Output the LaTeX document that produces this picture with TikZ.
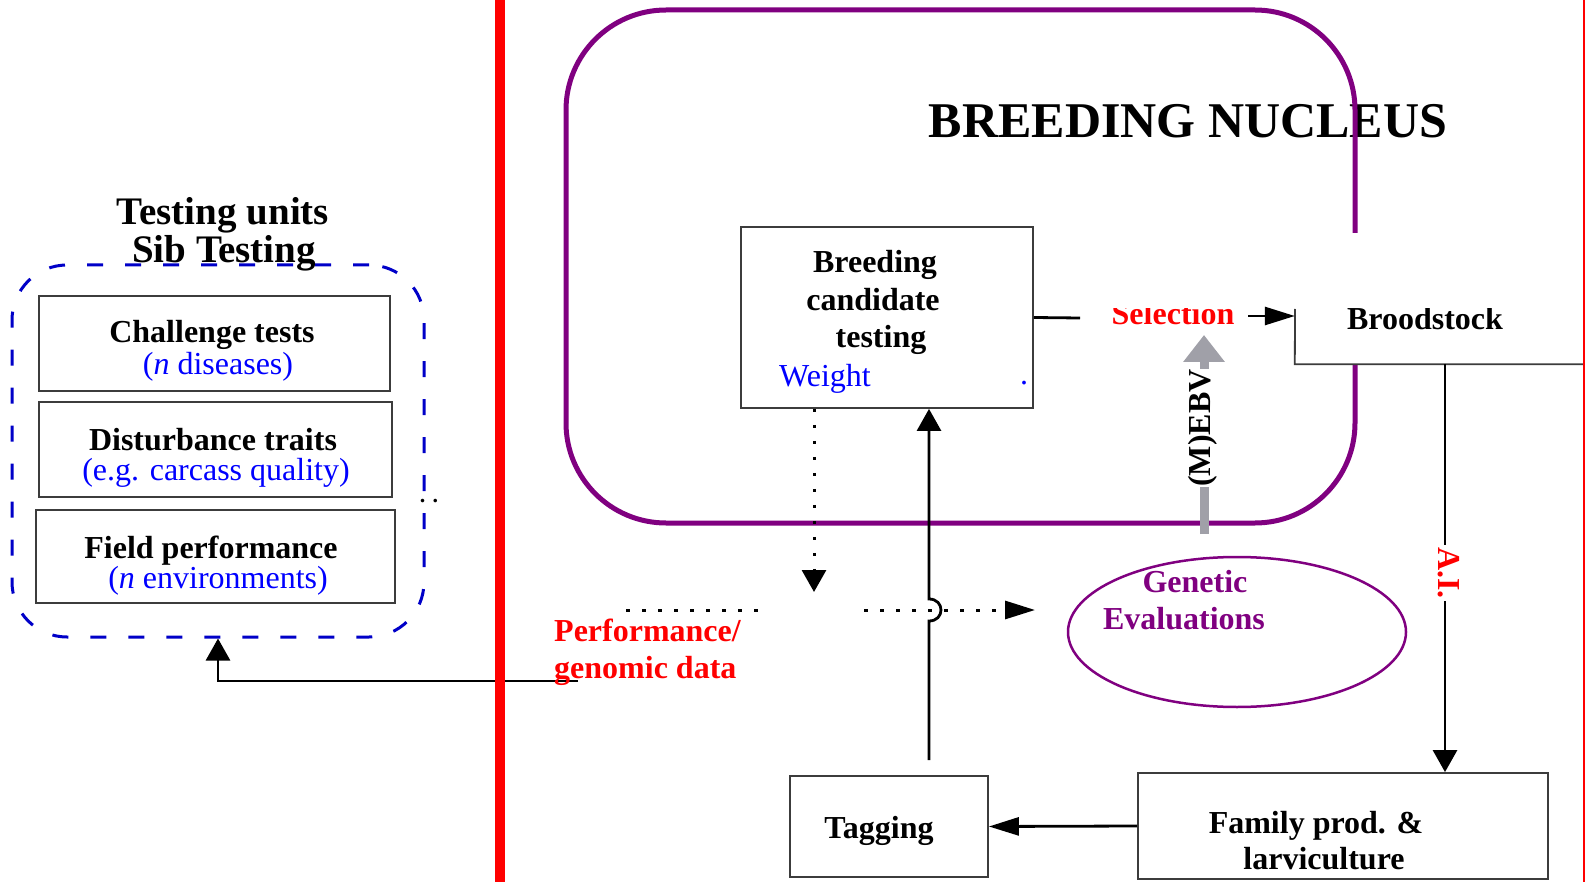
\documentclass[tikz,border=0pt]{standalone}
\usepackage{fontspec}
\setmainfont{Liberation Serif}
\usetikzlibrary{arrows.meta,shapes.geometric,calc}
\definecolor{nucpurple}{RGB}{128,0,128}
\definecolor{dblue}{RGB}{0,0,200}
\definecolor{ebvgray}{RGB}{160,160,168}
\definecolor{boxgray}{RGB}{60,60,60}
\newcommand{\fsz}[1]{\fontsize{#1}{#1}\selectfont}
\begin{document}
\begin{tikzpicture}[x=1pt,y=-1pt,
  box/.style={draw=boxgray, line width=1.8pt, rectangle, inner sep=0pt, fill=white},
  lbl/.style={anchor=base, inner sep=0pt, font=\fsz{32}\bfseries},
  subl/.style={anchor=base, inner sep=0pt, font=\fsz{32}, text=blue},
  conn/.style={draw=black, line width=2.8pt},
  harrow/.style={-{Triangle[length=30pt,width=18pt]}},
  varrow/.style={-{Triangle[length=22pt,width=24pt]}},
  dotline/.style={dash pattern=on 3.5pt off 12.5pt, line width=3pt},
]
\useasboundingbox (0,0) rectangle (1585,882);
\fill[white] (0,0) rectangle (1585,882);

% ---- breeding nucleus ----
\node[font=\fsz{50}\bfseries, anchor=base, inner sep=0pt] (title) at (1188,138) {BREEDING NUCLEUS};
\draw[nucpurple, line width=5pt, rounded corners=100pt] (566,10) rectangle (1355,523);

\node[box, minimum width=292pt, minimum height=181pt] (bct) at (887,317.5) {};
\node[lbl] (bct1) at (875,273) {Breeding};
\node[lbl] (bct2) at (873,311) {candidate};
\node[lbl] (bct3) at (881,348) {testing};
\node[subl, anchor=base west] (wt) at (779,387) {Weight};
\node[subl] (wdot) at (1024,385) {.};

% broodstock
\node[fill=white, inner sep=0pt, minimum width=289pt, minimum height=131pt] (brood) at (1439.5,298.5) {};
\coordinate (bl) at (1295,309);
\draw[draw=boxgray, line width=1.8pt] (bl) -- (brood.south west) -- (brood.south east);
\begin{scope}
\clip (1090,309) rectangle (1580,400);
\node[lbl, text=red] (sel) at (1173,325) {Selection};
\node[lbl] (bs) at (1425,330) {Broodstock};
\end{scope}

\coordinate (selL) at (1080,318);
\coordinate (selR) at (1248,316);
\draw[conn] (bct.east) -- (selL);
\draw[conn, harrow] (selR) -- (selR -| brood.west);

% EBV arrow
\coordinate (ebvB) at (1204,534);
\coordinate (ebvT) at (1204,335);
\draw[ebvgray, line width=9pt, -{Triangle[length=27pt,width=40pt]}] (ebvB) -- (ebvT);
\node[font=\fsz{32}\bfseries, rotate=90, fill=white, inner sep=0pt] (ebv) at (1203,428) {(M)EBV};

% genetic evaluations
\node[draw=nucpurple, line width=2.5pt, ellipse, minimum width=338pt, minimum height=150pt, inner sep=0pt] (ge) at (1237,632) {};
\node[lbl, text=nucpurple] (ge1) at (1195,592) {Genetic};
\node[lbl, text=nucpurple] (ge2) at (1184,629) {Evaluations};

% bottom boxes
\node[box, minimum width=198pt, minimum height=101pt] (tag) at (889,826.5) {};
\node[lbl] (tagt) at (879,838) {Tagging};
\node[box, minimum width=410pt, minimum height=106pt] (fam) at (1343,826) {};
\node[lbl] (fam1) at (1316,833) {Family prod. \&};
\node[lbl] (fam2) at (1324,869) {larviculture};

% A.I.
\coordinate (aiT) at (1445,364);
\draw[conn, varrow] (aiT) -- (aiT |- fam.north);
\node[font=\fsz{32}\bfseries, text=red, rotate=-90, fill=white, inner sep=2pt] (ai) at (1449,573) {A.I.};

\draw[conn, harrow] (fam.west) -- (tag.east);

% tagging -> breeding candidate testing (with hop)
\coordinate (tgT) at (929,760);
\draw[conn, varrow] (tgT) -- (929,621) .. controls (945,621) and (945,599) .. (929,599) -- (tgT |- bct.south);

% dotted data flow
\coordinate (dd) at (814,592);
\draw[conn, dotline, varrow] (dd |- bct.south) -- (dd);
\coordinate (h1) at (626,610);
\coordinate (h2) at (768,610);
\coordinate (h3) at (864,610);
\coordinate (h4) at (1035,610);
\draw[conn, dotline] (h1) -- (h2);
\draw[conn, dotline, harrow] (h3) -- (h4);

% ---- testing units ----
\node[draw=dblue, line width=3pt, dash pattern=on 16pt off 22pt, rounded corners=55pt, minimum width=412pt, minimum height=372pt, inner sep=0pt] (tu) at (218,451) {};
\node[anchor=base, inner sep=0pt, font=\fsz{39}\bfseries] (tu1) at (223,225) {Testing units};
\node[anchor=base, inner sep=0pt, font=\fsz{39}\bfseries] (tu2) at (224,263) {Sib Testing};

\node[box, minimum width=351pt, minimum height=95pt] (b1) at (214.5,343.5) {};
\node[lbl] (b1a) at (212,343) {Challenge tests};
\node[subl] (b1b) at (218,375) {(\textit{n} diseases)};
\node[box, minimum width=353pt, minimum height=95pt] (b2) at (215.5,449.5) {};
\node[lbl] (b2a) at (213,450) {Disturbance traits};
\node[subl] (b2b) at (216,480) {(e.g. carcass quality)};
\node[box, minimum width=359pt, minimum height=93pt] (b3) at (215.5,556.5) {};
\node[lbl] (b3a) at (211,558) {Field performance};
\node[subl] (b3b) at (218,588) {(\textit{n} environments)};
\node[anchor=base, inner sep=0pt, font=\fsz{22}\bfseries] (dd2) at (429,502) {. .};

% performance data to testing units
\coordinate (pf) at (578,681);
\draw[conn, varrow] (pf) -- (pf -| tu.south) -- (tu.south);

% red separators
\draw[red, line width=10pt] (500,0) -- (500,882);
\draw[red, line width=2pt] (1584,0) -- (1584,882);

\node[lbl, anchor=base west, text=red] (pd1) at (554,641) {Performance/};
\node[lbl, anchor=base west, text=red] (pd2) at (554,678) {genomic data};
\end{tikzpicture}
\end{document}
